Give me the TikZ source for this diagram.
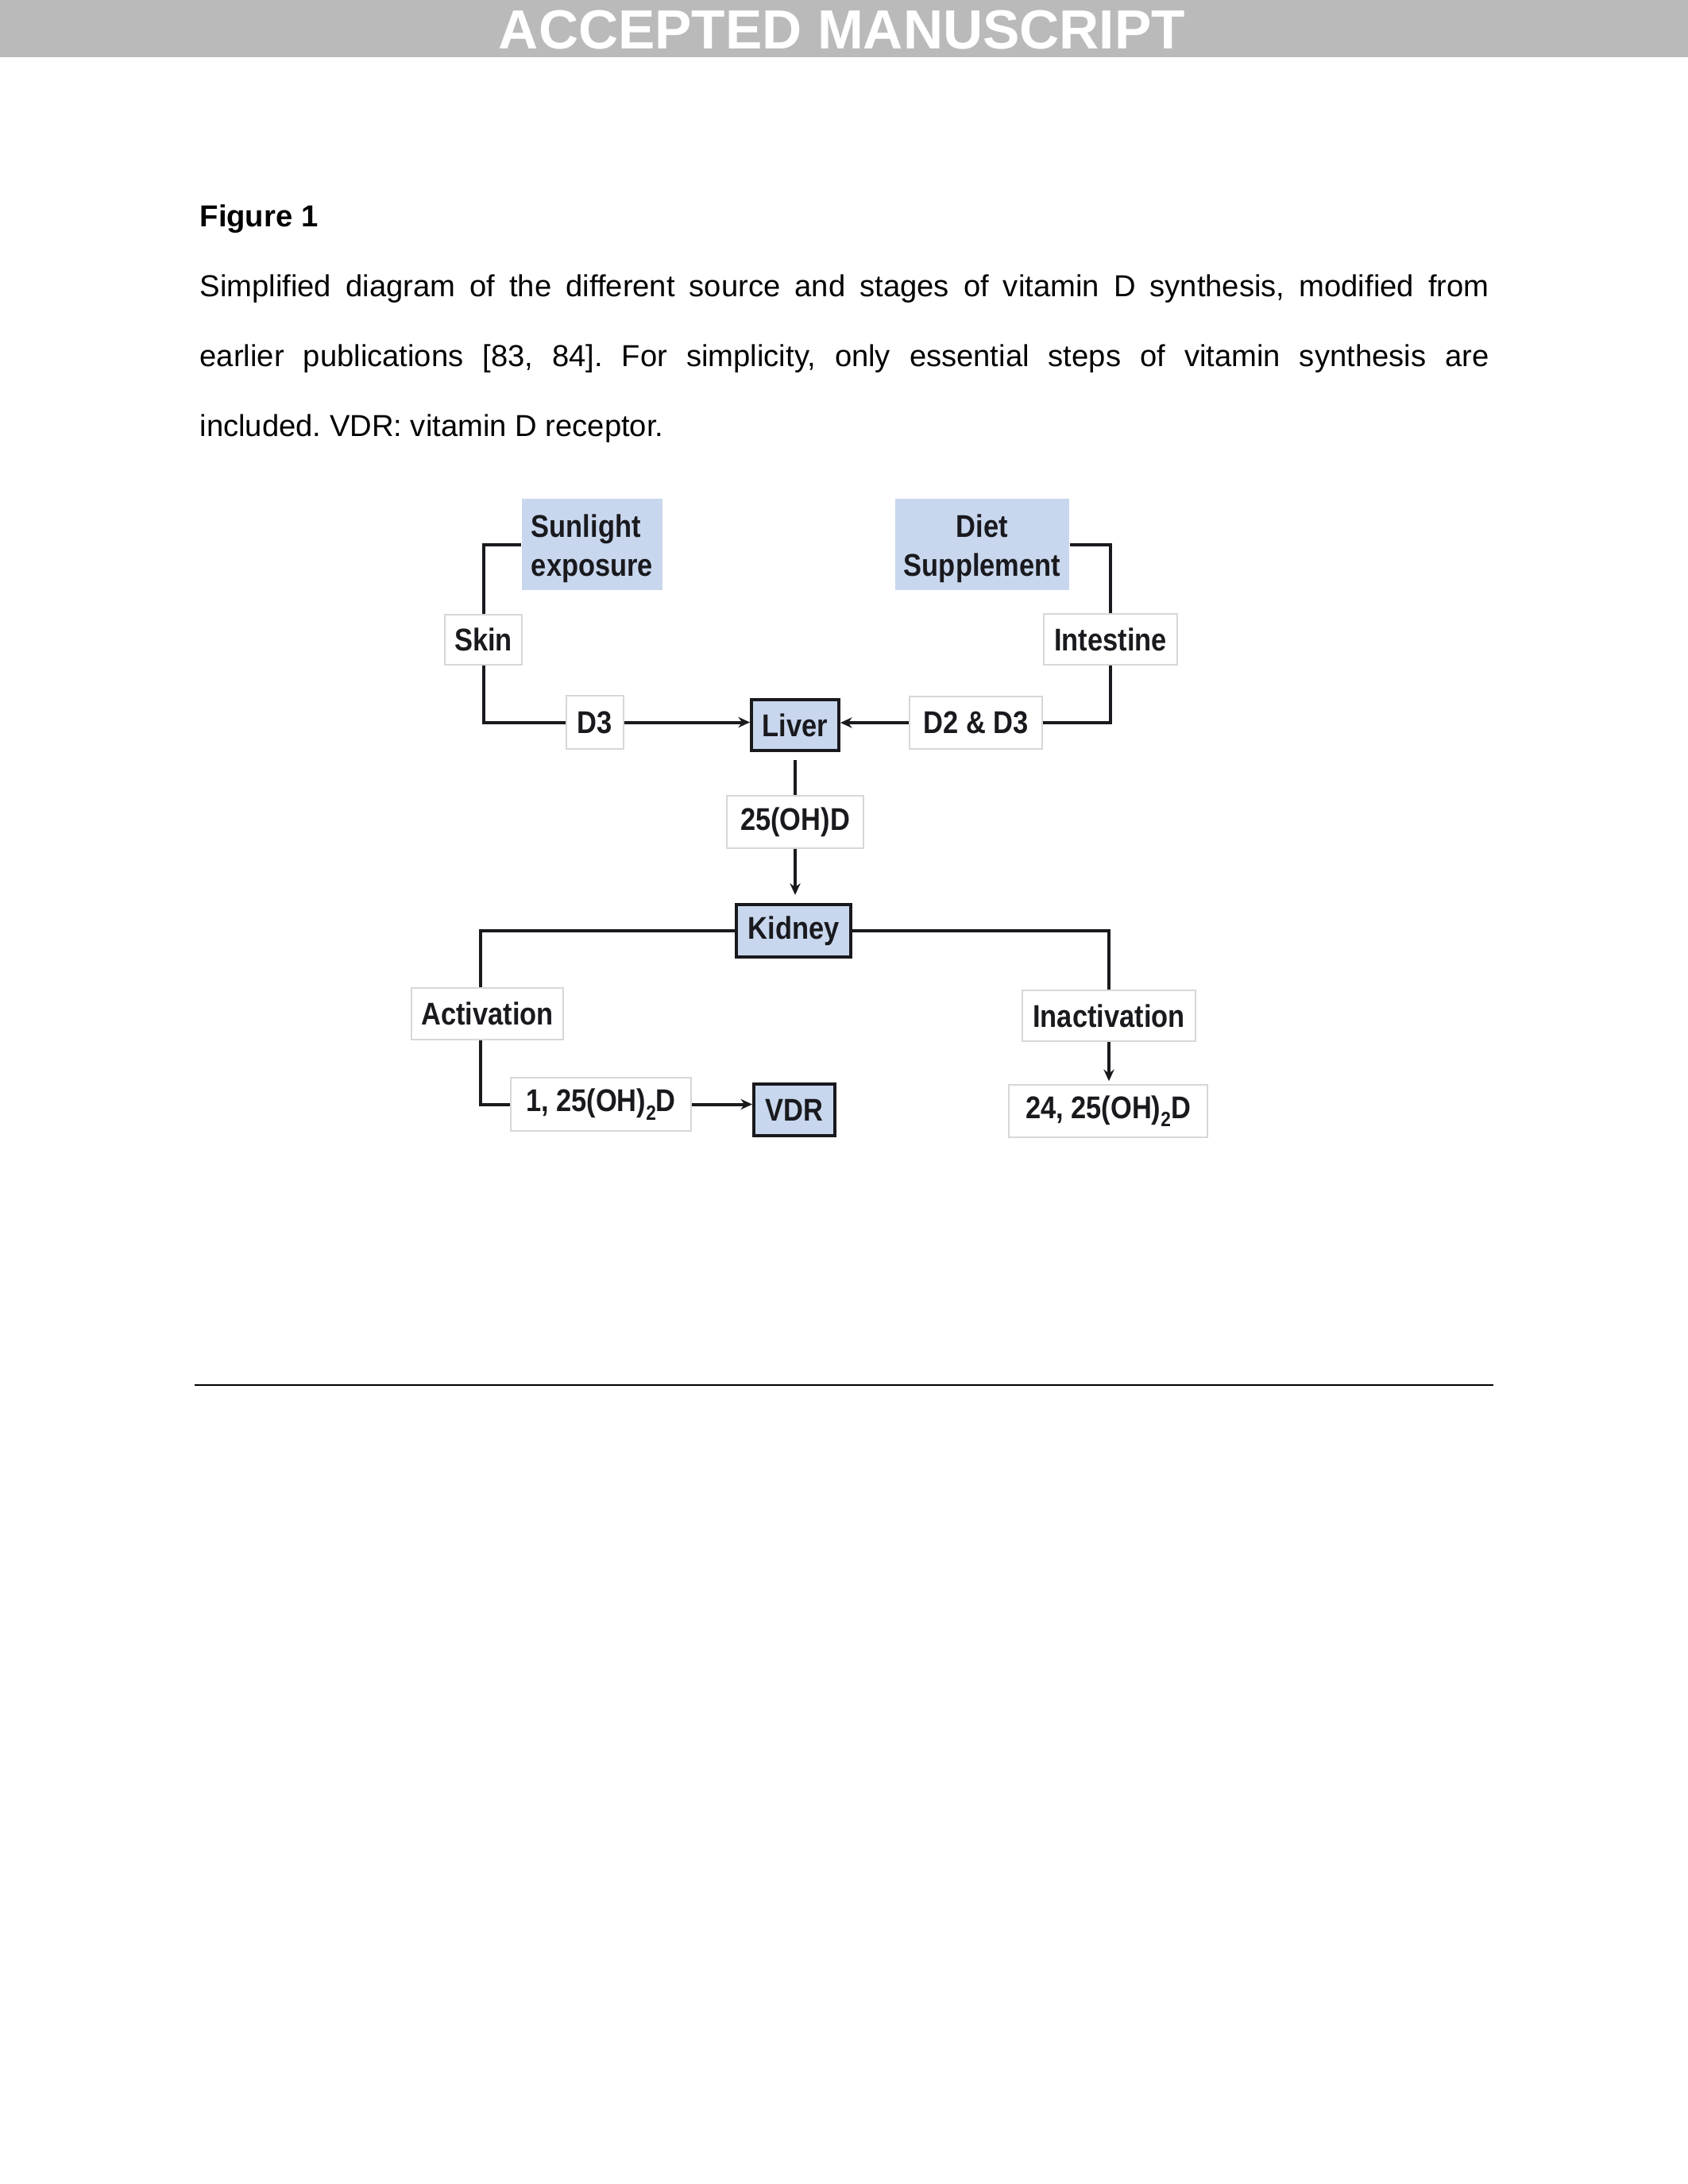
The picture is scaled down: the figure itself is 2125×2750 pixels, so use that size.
\documentclass[tikz,border=0pt]{standalone}
\usepackage{fontspec}
\setmainfont{Liberation Sans}
\newfontfamily\dg[FakeStretch=0.87]{Liberation Sans}
\usetikzlibrary{arrows.meta}
\definecolor{hdr}{RGB}{186,186,186}
\definecolor{lblue}{RGB}{200,215,237}
\definecolor{edge}{RGB}{215,215,215}
\definecolor{ink}{RGB}{25,25,30}
\newcommand\lowtwo{\raisebox{-0.5ex}{\fontsize{7.5}{7.5}\selectfont 2}}
\frenchspacing
\begin{document}
\begin{tikzpicture}[x=0.288pt,y=-0.288pt,
  dfont/.style={font=\dg\bfseries\fontsize{11.4}{14.3}\selectfont, text=ink},
  lab/.style={dfont, draw=edge, line width=0.35pt, fill=white, inner sep=0pt},
  src/.style={dfont, fill=lblue, inner sep=0pt},
  organ/.style={dfont, draw=ink, line width=1.1pt, fill=lblue, inner sep=0pt},
  link/.style={draw=ink, line width=1.15pt},
  arr/.style={link, -{Stealth[length=4.2pt,width=3.8pt]}},
]
\useasboundingbox (0,0) rectangle (2125,2750);
\fill[white] (0,0) rectangle (2125,2750);
% header
\fill[hdr] (0,0) rectangle (2125,72);
\node[anchor=base, inner sep=0pt, text=white, font=\bfseries\fontsize{20}{24}\selectfont] (hdrtxt) at (1060,61) {ACCEPTED MANUSCRIPT};
% caption
\node[anchor=base west, inner sep=0pt, font=\bfseries\fontsize{11}{13}\selectfont] (fig) at (251,285) {Figure 1};
\node[anchor=base west, inner sep=0pt, font=\fontsize{11}{13}\selectfont] (cap1) at (251,373) {\makebox[467.4pt][s]{Simplified diagram of the different source and stages of vitamin D synthesis, modified from}};
\node[anchor=base west, inner sep=0pt, font=\fontsize{11}{13}\selectfont] (cap2) at (251,461) {\makebox[467.4pt][s]{earlier publications [83, 84]. For simplicity, only essential steps of vitamin synthesis are}};
\node[anchor=base west, inner sep=0pt, font=\fontsize{11}{13}\selectfont] (cap3) at (251,549) {included. VDR: vitamin D receptor.};
% diagram nodes
\node[src, minimum width=51pt, minimum height=33.1pt, align=left] (sun) at (745.5,685.5) {\rule{0pt}{11.3pt}Sunlight\\exposure};
\node[src, minimum width=63.1pt, minimum height=33.1pt, align=center] (diet) at (1236.5,685.5) {\rule{0pt}{11.3pt}Diet\\Supplement};
\node[lab, minimum width=27.9pt, minimum height=18.1pt] (skin) at (608.5,805.5) {Skin};
\node[lab, minimum width=48.4pt, minimum height=18.4pt] (intestine) at (1398,805) {Intestine};
\node[lab, minimum width=20.7pt, minimum height=19.3pt] (d3) at (749,909.5) {D3};
\node[organ, minimum width=31.7pt, minimum height=18.5pt] (liver) at (1001,913) {Liver};
\node[lab, minimum width=48.1pt, minimum height=19pt] (d2d3) at (1228.5,910) {D2 \& D3};
\node[lab, minimum width=49.5pt, minimum height=19pt] (oh25) at (1001,1035) {25(OH)D};
\node[organ, minimum width=41.5pt, minimum height=19.1pt] (kidney) at (999,1172) {Kidney};
\node[lab, minimum width=55pt, minimum height=18.7pt] (activation) at (613.5,1276.5) {Activation};
\node[lab, minimum width=62.8pt, minimum height=18.4pt] (inact) at (1396,1279) {Inactivation};
\node[lab, minimum width=65.4pt, minimum height=19.3pt] (c125) at (756.5,1390.5) {1, 25(OH)\lowtwo D};
\node[organ, minimum width=29.4pt, minimum height=18.8pt] (vdr) at (1000,1397.5) {VDR};
\node[lab, minimum width=72pt, minimum height=19pt] (c2425) at (1395,1399) {24, 25(OH)\lowtwo D};
% connectors
\draw[link] (sun.west) -| (skin.north);
\draw[link] (skin.south) |- (d3.west);
\draw[arr] (d3.east) -- (d3.east -| liver.west);
\draw[link] (diet.east) -| (intestine.north);
\draw[link] (intestine.south) |- (d2d3.east);
\draw[arr] (d2d3.west) -- (d2d3.west -| liver.east);
\draw[link, shorten <=2.9pt] (liver.south) -- (liver.south |- oh25.north);
\draw[arr, shorten >=2.9pt] (oh25.south) -- (oh25.south |- kidney.north);
\coordinate (acttop) at ([xshift=-2.5pt]activation.north);
\coordinate (actbot) at ([xshift=-2.5pt]activation.south);
\draw[link] (kidney.west) -| (acttop);
\draw[link] (actbot) |- (c125.west);
\draw[arr] (c125.east) -- (c125.east -| vdr.west);
\draw[link] (kidney.east) -| (inact.north);
\draw[arr, shorten >=1.2pt] (inact.south) -- (inact.south |- c2425.north);
% bottom rule
\draw[line width=0.6pt] (245,1744) -- (1880,1744);
\end{tikzpicture}
\end{document}
